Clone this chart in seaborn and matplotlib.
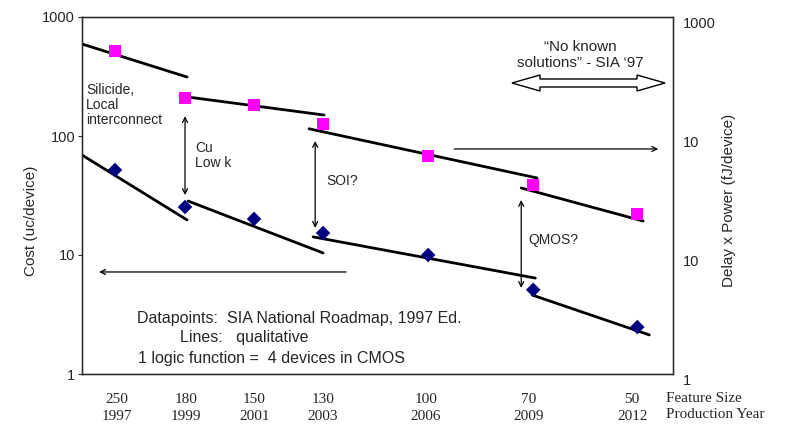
import numpy as np
import pandas as pd
import matplotlib
matplotlib.use("Agg")
import matplotlib.pyplot as plt
import matplotlib.patches as mpatches
import seaborn as sns

sns.set_style("white")
plt.rcParams["font.family"] = ["Liberation Sans", "DejaVu Sans"]

# data points
years_pts = [1996.94, 1998.98, 2000.99, 2003.0, 2006.06, 2009.12, 2012.15]
magenta_vals = [520, 208, 182, 126, 68, 38.7, 22]
blue_vals = [51.8, 25.3, 20.1, 15.3, 10.0, 5.1, 2.48]

# qualitative trend segments: (x0, y0, x1, y1)
magenta_segs = [(1995.98, 593, 1999.04, 313),
                (1998.83, 217, 2003.03, 150),
                (2002.59, 115, 2009.23, 44.4),
                (2008.77, 36.6, 2012.32, 19.3)]
blue_segs = [(1995.98, 69.2, 1999.04, 19.7),
             (1999.07, 28.4, 2003.0, 10.4),
             (2002.71, 14.2, 2009.18, 6.4),
             (2009.09, 4.61, 2012.5, 2.13)]

tick_years = [1997, 1999, 2001, 2003, 2006, 2009, 2012]
feature_sizes = ["250", "180", "150", "130", "100", "70", "50"]
right_ticks = [1, 10, 100, 1000]
right_labels = ["1", "10", "10", "1000"]  # as printed in the original

rows = []
for i, (x0, y0, x1, y1) in enumerate(magenta_segs + blue_segs):
    rows.append({"year": x0, "value": y0, "seg": i})
    rows.append({"year": x1, "value": y1, "seg": i})
seg_df = pd.DataFrame(rows)

fig = plt.figure(figsize=(7.89, 4.25), dpi=100)
ax = fig.add_axes([82 / 789, 1 - 374 / 425, 591 / 789, 357 / 425])

sns.lineplot(data=seg_df, x="year", y="value", units="seg", estimator=None,
             color="black", lw=2.0, ax=ax, legend=False)
sns.scatterplot(x=years_pts, y=magenta_vals, marker="s", color="#ff00ff",
                s=80, edgecolor="none", ax=ax, zorder=3)
sns.scatterplot(x=years_pts, y=blue_vals, marker="D", color="#000080",
                s=55, edgecolor="none", ax=ax, zorder=3)

ax.set_yscale("log")
ax.set_ylim(1, 1000)
ax.set_xlim(1995.98, 2013.19)
ax.set_yticks([1, 10, 100, 1000])
ax.set_yticklabels(["1", "10", "100", "1000"])
ax.minorticks_off()
ax.tick_params(axis="y", length=3, width=0.8, labelsize=10.5, pad=2)
ax.set_xticks(tick_years)
ax.set_xticklabels([f"{f}\n{y}" for f, y in zip(feature_sizes, tick_years)],
                   family="Liberation Serif", fontsize=11, linespacing=1.35)
ax.tick_params(axis="x", length=0, pad=14)
for s in ax.spines.values():
    s.set_color("black")
    s.set_linewidth(1.0)
ax.set_xlabel("")
ax.set_ylabel("Cost (uc/device)", fontsize=11)
ax.yaxis.set_label_coords(-0.074, 0.43)

ax2 = ax.twinx()
ax2.set_yscale("log")
ax2.set_ylim(1, 1000)
ax2.set_yticks(right_ticks)
ax2.set_yticklabels(right_labels)
ax2.minorticks_off()
ax2.tick_params(axis="y", length=0, labelsize=10.5, pad=7)
for lbl in ax2.get_yticklabels():
    lbl.set_va("top")
ax2.set_ylabel("Delay x Power (fJ/device)", fontsize=11, rotation=90)
ax2.yaxis.set_label_coords(1.083, 0.485)

ax.text(0.988, -0.05, "Feature Size\nProduction Year", transform=ax.transAxes,
        family="Liberation Serif", fontsize=11, linespacing=1.35,
        ha="left", va="top")

# arrows
arrow_kw = dict(color="black", lw=0.9, shrinkA=0, shrinkB=0, mutation_scale=9)
ax.annotate("", xy=(1998.98, 31.9), xytext=(1998.98, 147),
            arrowprops=dict(arrowstyle="<->", **arrow_kw))
ax.annotate("", xy=(2002.77, 16.9), xytext=(2002.77, 90.8),
            arrowprops=dict(arrowstyle="<->", **arrow_kw))
ax.annotate("", xy=(2008.77, 5.28), xytext=(2008.77, 29),
            arrowprops=dict(arrowstyle="<->", **arrow_kw))
ax.annotate("", xy=(2012.76, 77.8), xytext=(2006.82, 77.8),
            arrowprops=dict(arrowstyle="->", **arrow_kw))
ax.annotate("", xy=(1996.48, 7.2), xytext=(2003.67, 7.2),
            arrowprops=dict(arrowstyle="->", **arrow_kw))

# hollow double arrow "No known solutions"
W, H = 591.0, 357.0
xa, xb, yc = (512 - 82) / W, (665 - 82) / W, (374 - 83) / H
sh, hh, hl = 4 / H, 8 / H, 28 / W
poly = [(xa, yc), (xa + hl, yc + hh), (xa + hl, yc + sh), (xb - hl, yc + sh),
        (xb - hl, yc + hh), (xb, yc), (xb - hl, yc - hh), (xb - hl, yc - sh),
        (xa + hl, yc - sh), (xa + hl, yc - hh)]
ax.add_patch(mpatches.Polygon(poly, closed=True, fc="white", ec="black",
                              lw=1.0, transform=ax.transAxes))

# annotation texts
fs = 10
ax.text(1996.1, 182, "Silicide,\nLocal\ninterconnect", fontsize=fs,
        ha="left", va="center", linespacing=1.1)
ax.text(1999.27, 68, "Cu\nLow k", fontsize=fs, ha="left", va="center",
        linespacing=1.1)
ax.text(2003.09, 41.9, "SOI?", fontsize=fs, ha="left", va="center")
ax.text(2008.97, 13.4, "QMOS?", fontsize=fs, ha="left", va="center")
ax.text(2010.49, 479, "\u201cNo known\nsolutions\u201d - SIA \u201897", fontsize=11,
        ha="center", va="center", linespacing=1.1)
ax.text(1997.58, 2.9, "Datapoints:  SIA National Roadmap, 1997 Ed.",
        fontsize=11.5, ha="left", va="center")
ax.text(1998.83, 2.01, "Lines:   qualitative", fontsize=11.5,
        ha="left", va="center")
ax.text(1997.61, 1.34, "1 logic function =  4 devices in CMOS",
        fontsize=11.5, ha="left", va="center")

fig.savefig("out.png", dpi=100)
